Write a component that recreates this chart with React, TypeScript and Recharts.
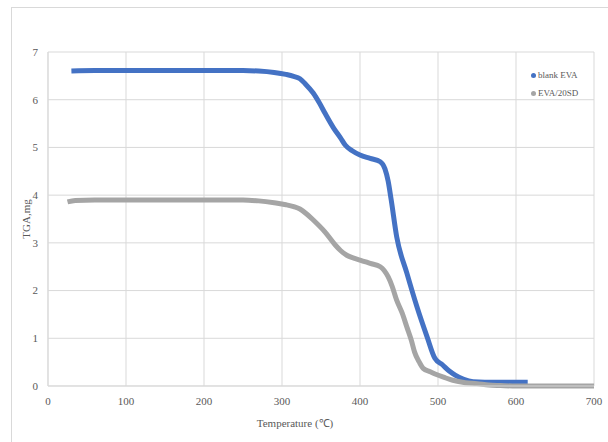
import React from 'react';
import { LineChart, Line, XAxis, YAxis, CartesianGrid } from 'recharts';

// TGA curves (temperature 춿C, mass mg)
const blankEva = [
    [30, 6.6], [60, 6.61], [100, 6.61], [150, 6.61], [200, 6.61], [250, 6.61], [270, 6.6],
    [290, 6.57], [305, 6.53], [315, 6.49], [323, 6.44], [330, 6.33], [340, 6.14], [348, 5.93],
    [355, 5.72], [366, 5.41], [375, 5.2], [381, 5.05], [390, 4.93], [400, 4.84], [413, 4.77],
    [426, 4.7], [432, 4.55], [436, 4.3], [440, 3.9], [447, 3.13], [460, 2.37], [473, 1.66],
    [486, 1.03], [496, 0.58], [506, 0.44], [514, 0.32], [522, 0.23], [533, 0.14], [545, 0.09],
    [560, 0.08], [590, 0.08], [615, 0.08],
].map(([t, mg]) => ({ t, mg }));

const eva20sd = [
    [25, 3.86], [35, 3.89], [60, 3.9], [100, 3.9], [150, 3.9], [200, 3.9], [250, 3.9], [270, 3.88],
    [290, 3.84], [305, 3.8], [315, 3.76], [323, 3.71], [332, 3.6], [340, 3.48], [355, 3.23],
    [368, 2.96], [375, 2.84], [383, 2.74], [392, 2.68], [400, 2.64], [413, 2.57], [426, 2.5],
    [431, 2.42], [436, 2.29], [441, 2.1], [447, 1.8], [454, 1.53], [460, 1.24], [466, 0.95],
    [470, 0.71], [476, 0.5], [481, 0.37], [490, 0.3], [498, 0.24], [508, 0.18], [519, 0.12],
    [535, 0.07], [550, 0.05], [565, 0.02], [580, 0.01], [600, 0], [650, 0], [700, 0],
].map(([t, mg]) => ({ t, mg }));

const xTicks = [0, 100, 200, 300, 400, 500, 600, 700];
const yTicks = [0, 1, 2, 3, 4, 5, 6, 7];

const series = [
    { name: 'blank EVA', data: blankEva, color: '#4472c4' },
    { name: 'EVA/20SD', data: eva20sd, color: '#a5a5a5' },
];

const font = '"Liberation Serif", "Times New Roman", serif';
const textColor = '#595959';
const gridColor = '#d9d9d9';

// legend sits inside the plot, so it's drawn as an overlay instead of recharts' Legend
const LegendBox = () => (
    <div style={{ position: 'absolute', left: 531, top: 66, fontFamily: font, fontSize: 9, color: textColor }}>
        {series.map(s => (
            <div key={s.name} style={{ display: 'flex', alignItems: 'center', height: 18 }}>
                <span style={{
                    width: 5, height: 5, borderRadius: '50%', background: s.color,
                    display: 'inline-block', marginRight: 2
                }} />
                {s.name}
            </div>
        ))}
    </div>
);

export default function App() {
    return (
        <div style={{ position: 'fixed', left: 0, top: 0, width: 608, height: 442, background: '#fff', overflow: 'hidden', fontFamily: font }}>
            <div style={{
                position: 'absolute', left: 11, top: 7, width: 640, height: 480,
                border: `1px solid ${gridColor}`
            }} />
            <LineChart width={608} height={442} margin={{ top: 52, right: 14, left: 0, bottom: 0 }} style={{ fontFamily: font }}>
                <CartesianGrid stroke={gridColor} />
                <XAxis
                    type="number"
                    dataKey="t"
                    domain={[0, 700]}
                    ticks={xTicks}
                    height={56}
                    tickLine={false}
                    tickSize={8}
                    tickMargin={3}
                    axisLine={{ stroke: gridColor }}
                    tick={{ fill: textColor, fontSize: 11, fontFamily: font }}
                    label={{
                        value: 'Temperature (\u2103)', position: 'insideBottom', offset: 15, dx: -26,
                        fill: textColor, fontSize: 11, fontFamily: font
                    }}
                />
                <YAxis
                    type="number"
                    domain={[0, 7]}
                    ticks={yTicks}
                    width={48}
                    tickLine={false}
                    tickSize={8}
                    tickMargin={2}
                    axisLine={{ stroke: gridColor }}
                    tick={{ fill: textColor, fontSize: 11, fontFamily: font }}
                    label={{
                        value: 'TGA,mg', angle: -90, position: 'insideLeft', offset: 26,
                        fill: textColor, fontSize: 11, fontFamily: font, style: { textAnchor: 'middle' }
                    }}
                />
                {series.map(s => (
                    <Line
                        key={s.name}
                        name={s.name}
                        data={s.data}
                        dataKey="mg"
                        type="monotone"
                        stroke={s.color}
                        strokeWidth={5}
                        dot={false}
                        isAnimationActive={false}
                    />
                ))}
            </LineChart>
            <LegendBox />
        </div>
    );
}
